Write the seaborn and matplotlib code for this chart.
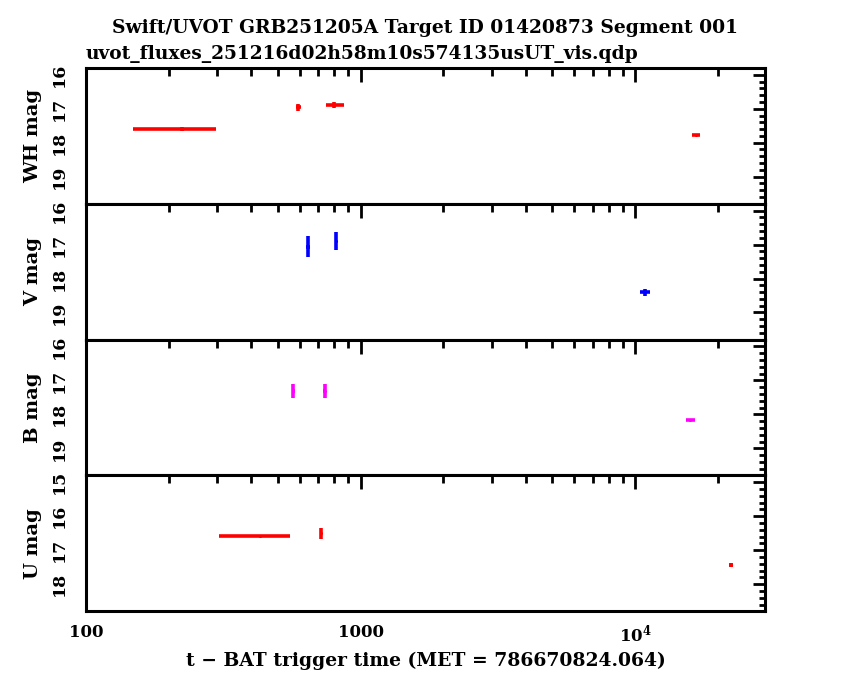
import matplotlib
matplotlib.use('Agg')
import matplotlib.pyplot as plt
import seaborn as sns
import numpy as np
from matplotlib.ticker import LogLocator, MultipleLocator, FixedFormatter, NullFormatter, FixedLocator

# data
filters = ['WH', 'V', 'B', 'U']
colors = ['red', 'blue', 'magenta', 'red']

wh_t = [223, 593, 798, 16630]
wh_t_lo = [148, 580, 751, 16100]
wh_t_hi = [298, 606, 869, 17200]
wh_mag = [17.60, 16.96, 16.88, 17.76]
wh_err = [0.05, 0.11, 0.09, 0.03]

v_t = [643, 815, 10870]
v_t_lo = [632, 808, 10430]
v_t_hi = [655, 822, 11340]
v_mag = [17.06, 16.90, 18.41]
v_err = [0.30, 0.27, 0.10]

b_t = [569, 741, 15850]
b_t_lo = [562, 733, 15300]
b_t_hi = [577, 749, 16500]
b_mag = [17.31, 17.31, 18.17]
b_err = [0.20, 0.20, 0.03]

u_t = [431, 718, 22280]
u_t_lo = [305, 710, 21900]
u_t_hi = [556, 726, 22700]
u_mag = [16.59, 16.50, 17.44]
u_err = [0.03, 0.16, 0.05]

series = [
    (wh_t, wh_t_lo, wh_t_hi, wh_mag, wh_err),
    (v_t, v_t_lo, v_t_hi, v_mag, v_err),
    (b_t, b_t_lo, b_t_hi, b_mag, b_err),
    (u_t, u_t_lo, u_t_hi, u_mag, u_err),
]
ylims = [(19.8, 15.8), (19.8, 15.8), (19.8, 15.8), (18.8, 14.8)]
yticks = [[16, 17, 18, 19], [16, 17, 18, 19], [16, 17, 18, 19], [15, 16, 17, 18]]

title = 'Swift/UVOT GRB251205A Target ID 01420873 Segment 001'
subtitle = 'uvot_fluxes_251216d02h58m10s574135usUT_vis.qdp'
xlabel = 't \u2212 BAT trigger time (MET = 786670824.064)'

sns.set_style('white')
plt.rcParams['font.family'] = ['DejaVu Serif']
plt.rcParams['font.weight'] = 'bold'
plt.rcParams['mathtext.fontset'] = 'dejavuserif'
plt.rcParams['mathtext.default'] = 'bf'
for k in ['text.color', 'axes.labelcolor', 'xtick.color', 'ytick.color']:
    plt.rcParams[k] = 'black'

fig, axes = plt.subplots(4, 1, figsize=(8.5, 6.8), dpi=100, sharex=True)
fig.subplots_adjust(left=0.101, right=0.9, top=0.9, bottom=0.101, hspace=0)

for i, ax in enumerate(axes):
    t, lo, hi, mag, err = [np.array(a, dtype=float) for a in series[i]]
    ax.errorbar(t, mag, xerr=[t - lo, hi - t], yerr=err, fmt='none',
                ecolor=colors[i], elinewidth=2.6, capsize=0)
    sns.scatterplot(x=t, y=mag, ax=ax, color=colors[i], s=5, linewidth=0, legend=False)
    ax.set_xscale('log')
    ax.set_xlim(100, 29700)
    ax.set_ylim(*ylims[i])
    ax.yaxis.set_major_locator(FixedLocator(yticks[i]))
    ax.yaxis.set_minor_locator(MultipleLocator(0.2))
    ax.xaxis.set_major_locator(LogLocator(base=10, numticks=10))
    ax.xaxis.set_minor_locator(LogLocator(base=10, subs=np.arange(2, 10), numticks=20))
    ax.xaxis.set_minor_formatter(NullFormatter())
    ax.tick_params(which='both', direction='in', top=True, right=True, width=2, color='black')
    ax.tick_params(axis='y', which='major', length=9, labelsize=12.5, labelrotation=90, pad=13)
    ax.tick_params(axis='y', which='minor', length=4.5)
    ax.tick_params(axis='x', which='major', length=10, labelsize=12, pad=9)
    ax.tick_params(axis='x', which='minor', length=6)
    for lbl in ax.get_yticklabels():
        lbl.set_va('center')
    for s in ax.spines.values():
        s.set_linewidth(2.2)
        s.set_color('black')
    ax.set_ylabel(filters[i] + ' mag', fontsize=14, fontweight='bold', labelpad=6)
    ax.grid(False)

axes[-1].xaxis.set_major_locator(FixedLocator([100, 1000, 10000]))
axes[-1].xaxis.set_major_formatter(FixedFormatter(['100', '1000', r'$10^4$']))
axes[-1].set_xlabel(xlabel, fontsize=13.5, fontweight='bold', labelpad=4)
fig.align_ylabels(axes)

fig.text(0.5, 1 - 33 / 680, title, ha='center', va='baseline', fontsize=13.4, fontweight='bold')
fig.text(86 / 850, 1 - 59 / 680, subtitle, ha='left', va='baseline', fontsize=13.4, fontweight='bold')

fig.savefig('out.png', dpi=100, facecolor='white')
